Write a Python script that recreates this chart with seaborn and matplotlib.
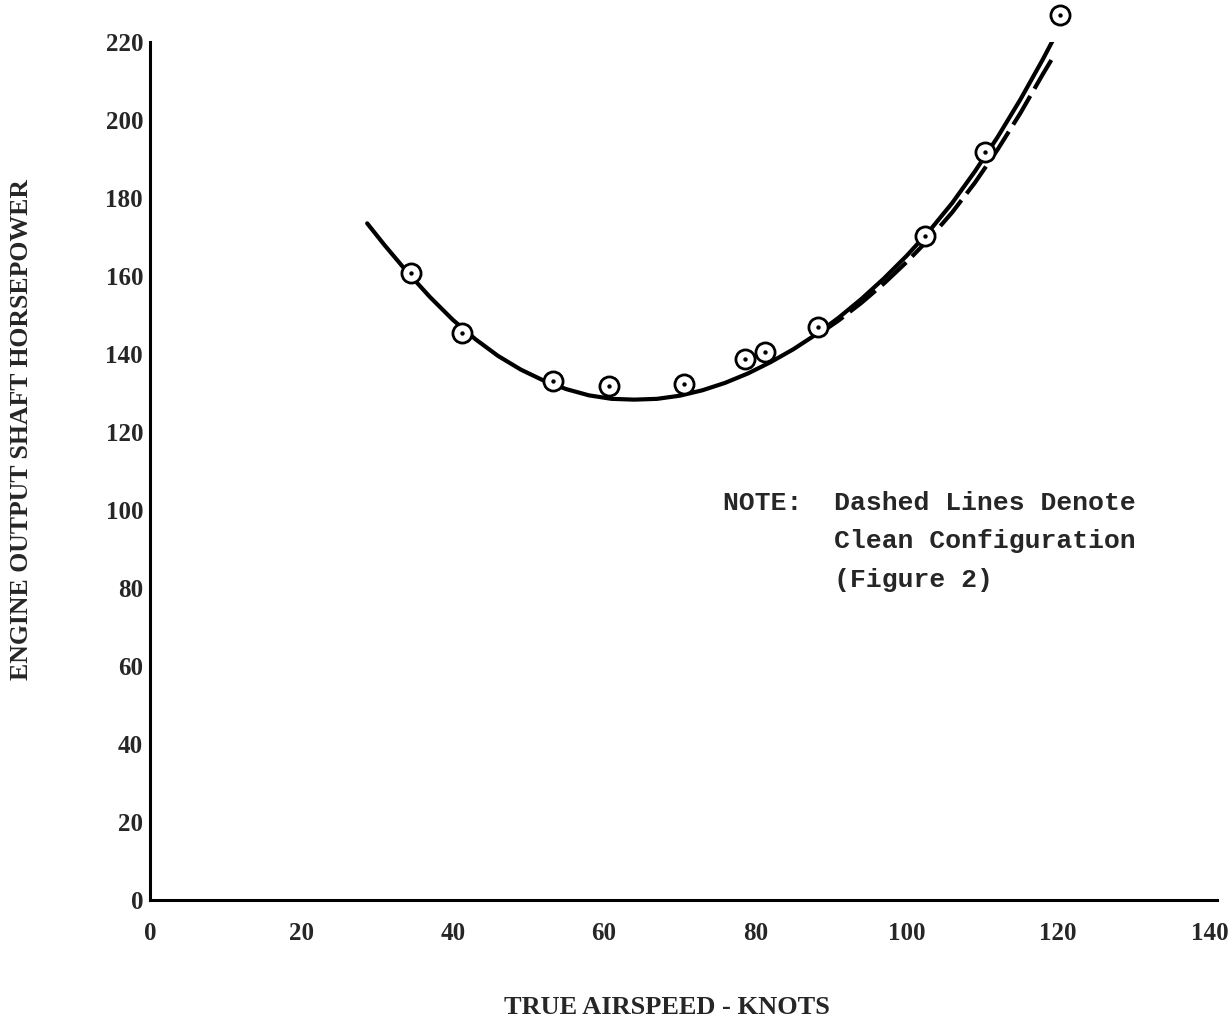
import matplotlib
matplotlib.use("Agg")
import matplotlib.pyplot as plt
import seaborn as sns
import pandas as pd

# Flight test points (true airspeed, knots / shaft horsepower)
test_speed = [34.5, 41.2, 53.3, 60.7, 70.6, 78.6, 81.3, 88.3, 102.4, 110.4, 120.3]
test_shp = [160.8, 145.3, 133.0, 131.9, 132.4, 138.6, 140.4, 146.8, 170.2, 191.8, 227.0]

# Faired curve through the test points
faired_speed = [28.7, 31, 34, 37, 40, 43, 46, 49, 52, 55, 58, 61, 64, 67, 70,
                73, 76, 79, 82, 85, 88, 91, 94, 97, 100, 103, 106, 109, 112,
                115, 118, 120]
faired_shp = [173.5, 167.9, 161.0, 154.6, 148.8, 143.8, 139.5, 136.0, 133.2,
              131.0, 129.4, 128.5, 128.3, 128.5, 129.3, 130.7, 132.6, 135.0,
              137.9, 141.2, 145.0, 149.3, 154.1, 159.4, 165.2, 171.6, 178.7,
              186.8, 195.6, 205.2, 215.6, 223.0]

# Clean configuration curve (dashed)
clean_speed = [88, 91, 94, 97, 100, 103, 106, 109, 112, 115, 118, 119.3]
clean_shp = [144.6, 148.6, 153.1, 158.1, 163.6, 169.6, 176.3, 183.9, 192.4,
             201.7, 211.8, 216.0]

x_ticks = [0, 20, 40, 60, 80, 100, 120, 140]
y_ticks = [0, 20, 40, 60, 80, 100, 120, 140, 160, 180, 200, 220]

sns.set_theme(style="white")
plt.rcParams["font.family"] = ["Liberation Serif", "DejaVu Serif"]

fig = plt.figure(figsize=(12.31, 10.26), dpi=100)
ax = fig.add_axes([150 / 1231, 1 - 900 / 1026, (1217 - 150) / 1231, (900 - 42) / 1026])

points = pd.DataFrame({"speed": test_speed, "shp": test_shp})
faired = pd.DataFrame({"speed": faired_speed, "shp": faired_shp})
clean = pd.DataFrame({"speed": clean_speed, "shp": clean_shp})

sns.lineplot(data=clean, x="speed", y="shp", ax=ax, color="black", lw=3.0,
             sort=False, estimator=None, linestyle=(0, (8, 2)))
sns.lineplot(data=faired, x="speed", y="shp", ax=ax, color="black", lw=3.0,
             sort=False, estimator=None, solid_joinstyle="round",
             solid_capstyle="round")
sns.scatterplot(data=points, x="speed", y="shp", ax=ax, marker="o", s=190,
                facecolor="white", edgecolor="black", linewidth=2.0,
                zorder=5, clip_on=False)
sns.scatterplot(data=points, x="speed", y="shp", ax=ax, marker="o", s=10,
                color="black", linewidth=0, zorder=6, clip_on=False)

ax.set_xlim(0, 141)
ax.set_ylim(0, 220)
ax.set_xticks(x_ticks)
ax.set_yticks(y_ticks)
ax.set_xticklabels([str(t) for t in x_ticks], fontsize=18, fontweight="bold")
ax.set_yticklabels([str(t) for t in y_ticks], fontsize=18, fontweight="bold")
ax.tick_params(axis="x", length=0, pad=16)
ax.tick_params(axis="y", length=0, pad=5)

for side in ["top", "right"]:
    ax.spines[side].set_visible(False)
for side in ["left", "bottom"]:
    ax.spines[side].set_color("black")
    ax.spines[side].set_linewidth(2.2)

ax.set_xlabel("")
ax.set_ylabel("")
fig.text(667 / 1231, 1 - 1008 / 1026, "TRUE AIRSPEED - KNOTS", ha="center",
         va="center", fontsize=19, fontweight="bold")
fig.text(22 / 1231, 1 - 430 / 1026, "ENGINE OUTPUT SHAFT HORSEPOWER", ha="center",
         va="center", rotation=90, fontsize=18.5, fontweight="bold")

fig.text(723 / 1231, 1 - 491 / 1026,
         "NOTE:  Dashed Lines Denote\n       Clean Configuration\n       (Figure 2)",
         ha="left", va="top", fontsize=19, fontweight="bold",
         family=["Liberation Mono", "DejaVu Sans Mono"], linespacing=1.75)

fig.savefig("out.png", dpi=100, facecolor="white")
